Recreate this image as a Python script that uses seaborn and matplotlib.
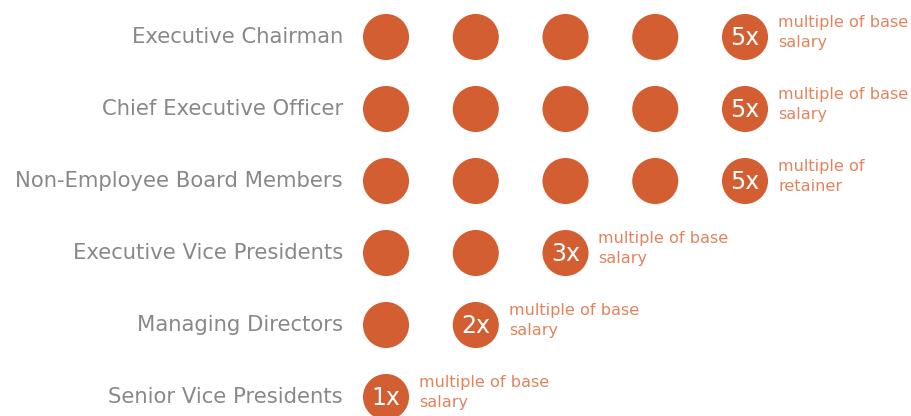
import matplotlib
matplotlib.use("Agg")
import matplotlib.pyplot as plt
import seaborn as sns
import pandas as pd

roles = ["Executive Chairman", "Chief Executive Officer", "Non-Employee Board Members",
         "Executive Vice Presidents", "Managing Directors", "Senior Vice Presidents"]
multiples = [5, 5, 5, 3, 2, 1]
multiple_labels = ["5x", "5x", "5x", "3x", "2x", "1x"]
notes = ["multiple of base\nsalary", "multiple of base\nsalary", "multiple of\nretainer",
         "multiple of base\nsalary", "multiple of base\nsalary", "multiple of base\nsalary"]

ORANGE = "#D35E32"
NOTE = "#E2835C"
GREY = "#888888"

rows = []
for i, (r, m) in enumerate(zip(roles, multiples)):
    for c in range(m):
        rows.append({"row": i, "col": c})
df = pd.DataFrame(rows)

sns.set_style("white")
plt.rcParams["font.family"] = ["DejaVu Sans"]

fig = plt.figure(figsize=(9.11, 4.16), dpi=100)
ax = fig.add_axes([0, 0, 1, 1])
sp = 89.75
xmin = -386 / sp
ax.set_xlim(xmin, xmin + 911 / sp)
yp = 72
ytop = -37 / yp
ax.set_ylim(ytop + 416 / yp, ytop)

sns.scatterplot(data=df, x="col", y="row", s=1100, color=ORANGE, edgecolor="none",
                ax=ax, legend=False)

for i, (r, m, lab, note) in enumerate(zip(roles, multiples, multiple_labels, notes)):
    ax.text(-43 / sp, i, r, ha="right", va="center", fontsize=15.2, color=GREY)
    ax.text(m - 1, i + 0.01, lab, ha="center", va="center", fontsize=17, color="white")
    ax.text(m - 1 + 33 / sp, i - 0.06, note, ha="left", va="center", fontsize=11.6,
            color=NOTE, linespacing=1.4)

ax.set_axis_off()
fig.savefig("out.png", dpi=100, facecolor="white")
